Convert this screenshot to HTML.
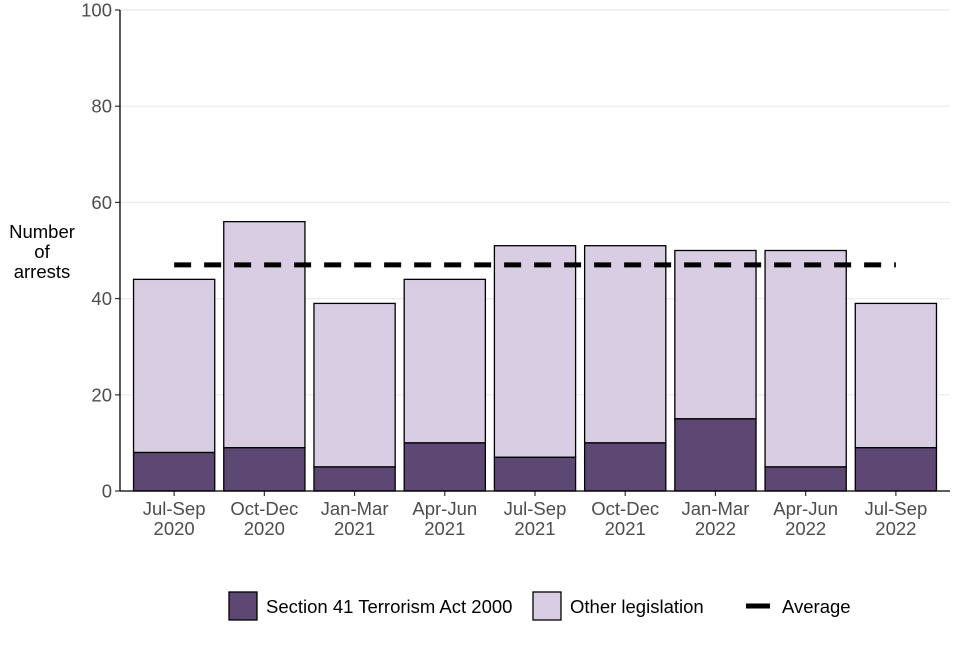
<!DOCTYPE html>
<html><head><meta charset="utf-8">
<style>
body{margin:0;background:#fff;font-family:"Liberation Sans",Arial,sans-serif;}
svg text{font-family:"Liberation Sans",Arial,sans-serif;}
</style></head>
<body>
<svg id="chart" width="960" height="640" viewBox="0 0 960 640"></svg>
<script>
const categories = [["Jul-Sep","2020"],["Oct-Dec","2020"],["Jan-Mar","2021"],["Apr-Jun","2021"],["Jul-Sep","2021"],["Oct-Dec","2021"],["Jan-Mar","2022"],["Apr-Jun","2022"],["Jul-Sep","2022"]];
const section41 = [8,9,5,10,7,10,15,5,9];
const totals = [44,56,39,44,51,51,50,50,39];
const averageValue = 47;
const yTicks = [0,20,40,60,80,100];

const NS="http://www.w3.org/2000/svg";
const svg=document.getElementById('chart');
const L=120,R=950,T=10,B=491;
const FS=18.5;
const step=(R-L)/(categories.length-1+1.2);
function xC(i){return L+step*(0.6+i);}
function y(v){return B-(v/100)*(B-T);}
function el(tag,attrs,parent){const e=document.createElementNS(NS,tag);for(const k in attrs)e.setAttribute(k,attrs[k]);(parent||svg).appendChild(e);return e;}

yTicks.forEach(t=>{
  const g=el('line',{x1:L,x2:R,y1:y(t),y2:y(t),stroke:'#ebebeb','stroke-width':1.2});
  
  
  const tk=el('line',{x1:L-5,x2:L,y1:y(t),y2:y(t),stroke:'#333','stroke-width':1.2});
  
  
  const tx=el('text',{x:L-8,y:y(t)+6.5,'text-anchor':'end','font-size':FS,fill:'#4d4d4d'});
  tx.textContent=t;
  
  
});

const bw=step*0.9;
categories.forEach((c,i)=>{
  const x=xC(i)-bw/2;
  const o=el('rect',{x:x,y:y(totals[i]),width:bw,height:y(section41[i])-y(totals[i]),fill:'#d8cde2',stroke:'#000','stroke-width':1.3});
  
  
  const s=el('rect',{x:x,y:y(section41[i]),width:bw,height:B-y(section41[i]),fill:'#5d4874',stroke:'#000','stroke-width':1.3});
  
  
  const tk=el('line',{x1:xC(i),x2:xC(i),y1:B,y2:B+5,stroke:'#333','stroke-width':1.2});
  
  
  c.forEach((line,j)=>{
    const tx=el('text',{x:xC(i),y:B+24+j*20,'text-anchor':'middle','font-size':FS,fill:'#4d4d4d'});
    tx.textContent=line;
    
    
  });
});

const avg=el('line',{x1:xC(0),x2:xC(categories.length-1),y1:y(averageValue),y2:y(averageValue),stroke:'#000','stroke-width':5,'stroke-dasharray':'17,13'});



const ax=el('line',{x1:L,x2:L,y1:T,y2:B,stroke:'#000','stroke-width':1.3});


const bx=el('line',{x1:L,x2:R,y1:B,y2:B,stroke:'#000','stroke-width':1.3});



const yt=el('text',{'text-anchor':'middle','font-size':FS,fill:'#000'});


[["Number",238],["of",258],["arrests",278]].forEach(([t,yy])=>{const s=el('tspan',{x:42,y:yy},yt);s.textContent=t;});

const lg=el('g',{});


const r1=el('rect',{x:229,y:592,width:28,height:28,fill:'#5d4874',stroke:'#000','stroke-width':1.3},lg);


const t1=el('text',{x:266,y:613,'font-size':FS,fill:'#000'},lg);t1.textContent='Section 41 Terrorism Act 2000';


const r2=el('rect',{x:533,y:592,width:28,height:28,fill:'#d8cde2',stroke:'#000','stroke-width':1.3},lg);


const t2=el('text',{x:570,y:613,'font-size':FS,fill:'#000'},lg);t2.textContent='Other legislation';


const l3=el('line',{x1:746,x2:770,y1:606,y2:606,stroke:'#000','stroke-width':5},lg);


const t3=el('text',{x:782,y:613,'font-size':FS,fill:'#000'},lg);t3.textContent='Average';


</script>
</body></html>
